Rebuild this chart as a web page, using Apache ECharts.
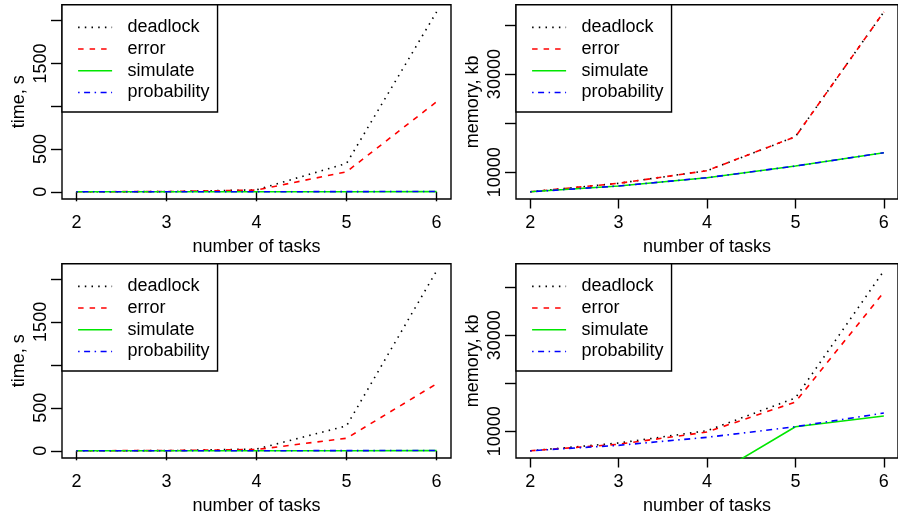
<!DOCTYPE html>
<html><head><meta charset="utf-8">
<script src="https://cdn.jsdelivr.net/npm/echarts@6/dist/echarts.min.js"></script>
<style>html,body{margin:0;padding:0;background:#fff}#c{width:898px;height:517px}</style>
</head><body><div id="c"></div>
<script>
// ---------- data ----------
const tasks = [2, 3, 4, 5, 6];
const seriesNames = ['deadlock', 'error', 'simulate', 'probability'];

// top-left: time, s
const timeTop_deadlock    = [0.5, 2, 23, 332, 2103];
const timeTop_error       = [0.5, 3, 20, 234, 1053];
const timeTop_simulate    = [0.1, 0.2, 0.5, 1, 2];
const timeTop_probability = [0.1, 0.3, 0.8, 2, 4];

// top-right: memory, kb
const memTop_deadlock    = [6030, 7760, 10330, 17250, 42670];
const memTop_error       = [6030, 7760, 10330, 17250, 42670];
const memTop_simulate    = [6030, 7210, 8900, 11280, 13990];
const memTop_probability = [6030, 7210, 8900, 11280, 13990];

// bottom-left: time, s
const timeBot_deadlock    = [0.5, 2, 20, 290, 2093];
const timeBot_error       = [0.5, 3, 15, 146, 780];
const timeBot_simulate    = [0.1, 0.2, 0.5, 1, 2];
const timeBot_probability = [0.1, 0.3, 0.8, 2, 4];

// bottom-right: memory, kb
const memBot_deadlock    = [5940, 7560, 10125, 16940, 43400];
const memBot_error       = [5940, 7300, 9850, 16100, 38960];
const memBot_simulate    = [0, 0, 0, 10960, 13190];
const memBot_probability = [5940, 7080, 8750, 10960, 13800];

// tick values / labels
const xTickValues = [2, 3, 4, 5, 6];
const timeTickValues = [0, 500, 1000, 1500, 2000];
const timeTickLabels = [0, 500, 1500];
const memTickValues = [10000, 20000, 30000, 40000];
const memTickLabels = [10000, 30000];

// ---------- layout / style ----------
const FONT = '"Liberation Sans", Arial, Helvetica, sans-serif';
const FS = 18;
const styles = {
  deadlock:    { color: '#000000', type: [1.5, 5.2] },
  error:       { color: '#FF0000', type: [5.5, 6] },
  simulate:    { color: '#00E600', type: 'solid' },
  probability: { color: '#0000FF', type: [1.5, 4.5, 6, 4.5] }
};

const panels = [
  { left: 62,  top: 4.7,   yName: 'time, s',    ymin: -84.1, ymax: 2187.1, ticks: timeTickValues, labels: timeTickLabels,
    data: [timeTop_deadlock, timeTop_error, timeTop_simulate, timeTop_probability] },
  { left: 516, top: 4.7,   yName: 'memory, kb', ymin: 4564,  ymax: 44136,  ticks: memTickValues,  labels: memTickLabels,
    data: [memTop_deadlock, memTop_error, memTop_simulate, memTop_probability] },
  { left: 62,  top: 263.7, yName: 'time, s',    ymin: -83.7, ymax: 2176.7, ticks: timeTickValues, labels: timeTickLabels,
    data: [timeBot_deadlock, timeBot_error, timeBot_simulate, timeBot_probability] },
  { left: 516, top: 263.7, yName: 'memory, kb', ymin: 4442,  ymax: 44898,  ticks: memTickValues,  labels: memTickLabels,
    data: [memBot_deadlock, memBot_error, memBot_simulate, memBot_probability] }
];

const grid = [], xAxis = [], yAxis = [], series = [], legend = [];
panels.forEach((p, i) => {
  grid.push({ left: p.left, top: p.top, width: 389, height: 194.3, show: true,
    borderColor: '#000', borderWidth: 1.4, backgroundColor: 'transparent', containLabel: false });
  xAxis.push({
    gridIndex: i, type: 'value', min: 1.84, max: 6.16,
    name: 'number of tasks', nameLocation: 'middle', nameGap: 48.5,
    nameTextStyle: { fontFamily: FONT, fontSize: FS, color: '#000', verticalAlign: 'middle' },
    axisLine: { show: false }, splitLine: { show: false },
    axisTick: { show: true, length: 9.5, lineStyle: { color: '#000', width: 1.4 }, customValues: xTickValues },
    axisLabel: { show: true, margin: 24, fontFamily: FONT, fontSize: FS, color: '#000', verticalAlign: 'middle',
      customValues: xTickValues, formatter: v => String(v) }
  });
  yAxis.push({
    gridIndex: i, type: 'value', min: p.ymin, max: p.ymax,
    name: p.yName, nameLocation: 'middle', nameGap: 43,
    nameTextStyle: { fontFamily: FONT, fontSize: FS, color: '#000', verticalAlign: 'middle' },
    axisLine: { show: false }, splitLine: { show: false },
    axisTick: { show: true, length: 11, lineStyle: { color: '#000', width: 1.4 }, customValues: p.ticks },
    axisLabel: { show: true, rotate: 90, margin: 21, fontFamily: FONT, fontSize: FS, color: '#000', verticalAlign: 'middle',
      customValues: p.labels, formatter: v => String(v) }
  });
  seriesNames.forEach((nm, k) => {
    series.push({
      name: nm, type: 'line', xAxisIndex: i, yAxisIndex: i,
      data: tasks.map((t, j) => [t, p.data[k][j]]),
      symbol: 'none', clip: true, animation: false,
      lineStyle: { color: styles[nm].color, width: 1.6, type: styles[nm].type },
      itemStyle: { color: styles[nm].color },
      z: 2 + k
    });
  });
  legend.push({
    data: seriesNames, orient: 'vertical', left: p.left, top: p.top,
    selectedMode: false, itemGap: 0, itemWidth: 34, itemHeight: 14,
    padding: [11.8, 8, 8.7, 15.3],
    backgroundColor: '#fff', borderColor: '#000', borderWidth: 1.4,
    itemStyle: { opacity: 0 },
    lineStyle: { width: 1.6 },
    textStyle: { fontFamily: FONT, fontSize: FS, color: '#000', lineHeight: 21.7, padding: [0, 0, 0, 10.4] },
    z: 10
  });
});

const chart = echarts.init(document.getElementById('c'), null, { renderer: 'canvas' });
chart.setOption({
  animation: false,
  backgroundColor: '#fff',
  textStyle: { fontFamily: FONT },
  grid, xAxis, yAxis, series, legend
});
</script>
</body></html>
